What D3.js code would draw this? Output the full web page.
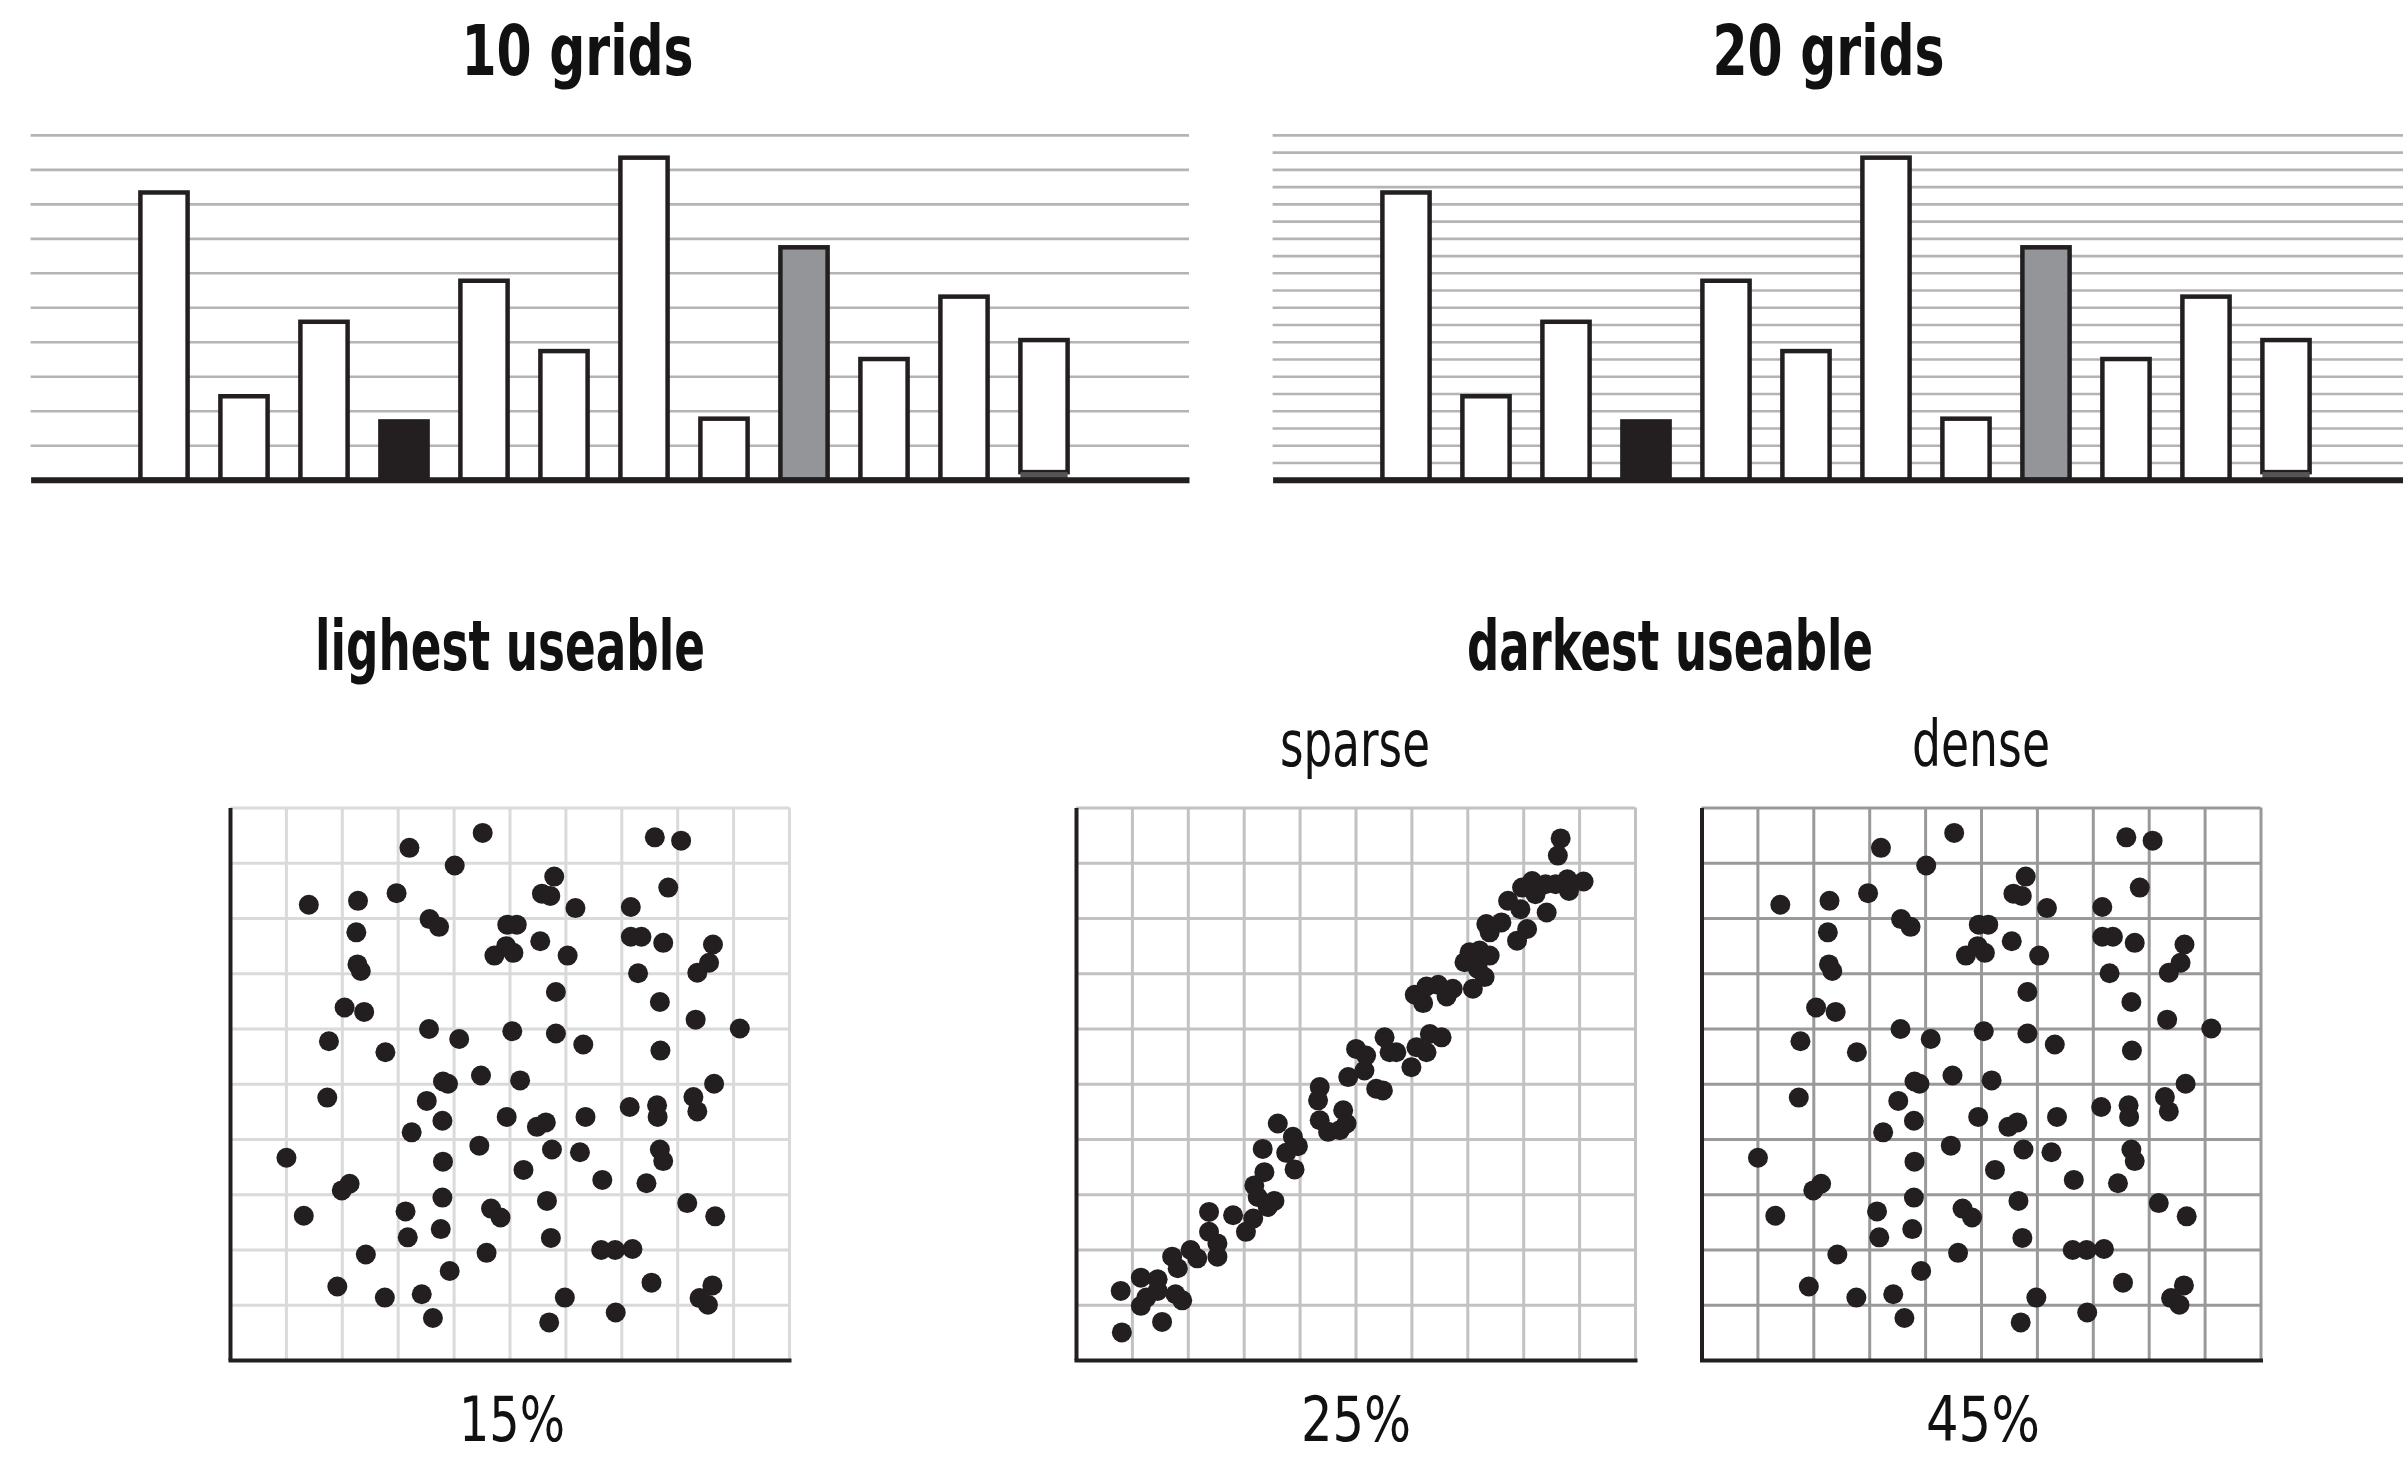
<!DOCTYPE html>
<html>
<head>
<meta charset="utf-8">
<script src="https://cdn.jsdelivr.net/npm/d3@7"></script>
<style>
html,body{margin:0;padding:0;background:#fff;}
svg{display:block;}
</style>
</head>
<body>
<svg id="chart" width="2403" height="1458"></svg>
<script>
// ---------------- DATA ----------------
const barCategories = ["1","2","3","4","5","6","7","8","9","10","11","12"];
const barValues = [8.33, 2.42, 4.58, 1.69, 5.77, 3.73, 9.34, 1.77, 6.74, 3.50, 5.31, 4.05];
const barGridCounts = [10, 20];
const barTitles = ["10 grids", "20 grids"];
const darkCategory = "4";
const grayCategory = "9";
const liftedCategory = "12";
const liftedBase = 0.22;

const panelTitles = ["lighest useable", "darkest useable"];
const panelSubtitles = ["sparse", "dense"];
const panelLabels = ["15%", "25%", "45%"];
const gridTicks = [1, 2, 3, 4, 5, 6, 7, 8, 9, 10];

// scattered points (used by the 15% and the dense 45% panels)
const scatterPoints = [
 [4.52,9.54],[3.21,9.27],[4.02,8.95],[2.98,8.45],[1.41,8.24],[2.29,8.31],[3.57,7.98],[3.74,7.84],
 [2.26,7.74],[4.96,7.88],[5.13,7.88],[4.73,7.32],[4.94,7.49],[5.07,7.37],[2.28,7.16],[2.34,7.04],
 [2.05,6.38],[2.40,6.30],[3.56,5.99],[1.77,5.77],[4.10,5.81],[5.05,5.95],[2.78,5.57],[3.81,5.04],
 [3.90,5.00],[4.49,5.15],[5.19,5.06],
 [7.60,9.46],[8.07,9.40],[5.80,8.75],[5.58,8.44],[5.73,8.40],[6.18,8.18],[7.84,8.55],[7.17,8.20],
 [5.55,7.58],[6.04,7.32],[7.17,7.66],[7.36,7.66],[7.75,7.55],[8.64,7.52],[8.57,7.19],[8.36,7.01],
 [7.30,7.00],[5.83,6.66],[7.69,6.48],[8.33,6.16],[9.12,6.00],[5.83,5.91],[6.32,5.71],[7.70,5.60],
 [8.66,5.00],
 [1.74,4.75],[3.52,4.69],[3.80,4.33],[4.95,4.40],[3.25,4.12],[4.46,3.88],[1.01,3.66],[3.81,3.59],
 [5.25,3.44],[2.14,3.19],[2.00,3.07],[3.80,2.94],[1.32,2.61],[3.14,2.69],[4.67,2.74],[4.84,2.58],
 [3.77,2.37],[3.18,2.22],[2.43,1.91],[4.59,1.94],[3.93,1.61],[1.92,1.33],[2.77,1.13],[3.43,1.19],
 [3.63,0.76],
 [8.29,4.76],[8.36,4.50],[5.49,4.22],[5.65,4.30],[6.36,4.40],[7.15,4.58],[7.64,4.61],[7.65,4.40],
 [5.76,3.81],[6.26,3.76],[7.69,3.81],[7.75,3.60],[6.66,3.26],[7.45,3.20],[5.67,2.88],[8.18,2.84],
 [8.68,2.60],[5.74,2.21],[6.64,1.99],[6.89,1.99],[7.20,2.01],[7.54,1.40],[5.99,1.13],[8.63,1.35],
 [8.40,1.12],[8.55,1.00],[6.90,0.86],[5.71,0.68]
];

// correlated points (used by the sparse 25% panel)
const linearPoints = [
 [0.82,0.50],[1.54,0.69],[0.80,1.25],[1.16,1.49],[1.16,0.98],[1.26,1.13],[1.46,1.46],[1.46,1.25],
 [1.78,1.19],[1.90,1.08],[1.72,1.87],[1.82,1.66],[2.05,1.99],[2.17,1.84],[2.38,2.68],[2.38,2.32],
 [2.53,2.11],[2.53,1.87],[2.81,2.62],[3.04,2.32],[3.17,2.56],[3.19,3.16],[3.25,2.95],[3.34,3.82],
 [3.37,3.40],[3.43,2.77],
 [3.55,2.88],[3.61,4.28],[3.88,4.04],[3.97,3.87],[3.76,3.75],[3.91,3.45],[4.36,4.94],[4.33,4.70],
 [4.36,4.34],[4.51,4.13],[4.72,4.16],[4.78,4.52],[4.84,4.28],[4.87,5.12],[5.01,5.63],[5.19,5.51],
 [5.16,5.24],[5.37,4.91],[5.49,4.88],[5.52,5.84],[5.61,5.57],[5.73,5.57],[6.00,5.30],[6.09,5.66],
 [6.33,5.90],[6.54,5.84],[6.27,5.57],[6.06,6.61],[6.21,6.46],[6.27,6.76],[6.48,6.79],[6.63,6.58],
 [8.67,9.44],[8.62,9.13],[9.08,8.66],[8.79,8.70],[8.82,8.49],[8.58,8.61],[8.40,8.61],[8.16,8.67],
 [7.98,8.55],[8.22,8.43],[8.42,8.10],[7.73,8.31],[7.95,8.16],[8.07,7.80],[7.89,7.59],[7.61,7.92],
 [7.34,7.89],[7.40,7.74],[7.22,7.41],[7.40,7.32],[7.04,7.38],[6.95,7.20],[7.19,7.08],[7.31,6.93],
 [7.10,6.72],[6.74,6.72]
];

// ---------------- DRAW ----------------
const svg = d3.select("#chart");
const INK = "#231f20";
const BOLD_FONT = "'Liberation Sans Narrow','DejaVu Sans Condensed','Open Sans',sans-serif";

svg.append("rect").attr("width", 2403).attr("height", 1458).attr("fill", "#fff");

function label(text, cx, baseline, size, weight, width) {
  svg.append("text")
    .attr("x", cx).attr("y", baseline)
    .attr("text-anchor", "middle")
    .attr("font-family", BOLD_FONT)
    .attr("font-size", size)
    .attr("font-weight", weight)
    .attr("fill", "#111")
    .attr("textLength", width)
    .attr("lengthAdjust", "spacingAndGlyphs")
    .text(text);
}

// Bar charts
const barY = d3.scaleLinear().domain([0, 10]).range([479.7, 134.9]);
const chartOffsets = [0, 1242];
chartOffsets.forEach((dx, i) => {
  const g = svg.append("g");
  const gridLeft = 30.6 + dx, gridRight = 1189 + dx;
  const n = barGridCounts[i];
  const ticks = d3.range(1, n + 1).map(k => k * 10 / n);
  const gridAxis = d3.axisRight(barY).tickValues(ticks).tickSize(gridRight - gridLeft).tickFormat("");
  const ga = g.append("g").attr("transform", `translate(${gridLeft},0)`).call(gridAxis);
  ga.select(".domain").remove();
  ga.selectAll(".tick line").attr("stroke", "#b4b4b4").attr("stroke-width", 2.6);

  const x = d3.scaleBand().domain(barCategories)
    .range([124 + dx, 1084 + dx]).paddingInner(0.41).paddingOuter(0.205);

  const data = barCategories.map((c, j) => ({c, v: barValues[j]}));
  g.selectAll("rect.bar").data(data).join("rect")
    .attr("class", "bar")
    .attr("x", d => x(d.c))
    .attr("y", d => barY(d.v))
    .attr("width", x.bandwidth())
    .attr("height", d => barY(d.c === liftedCategory ? liftedBase : 0) - barY(d.v))
    .attr("fill", d => d.c === darkCategory ? INK : (d.c === grayCategory ? "#939598" : "#fff"))
    .attr("stroke", INK)
    .attr("stroke-width", 4.5);

  g.selectAll("rect.lift").data(data.filter(d => d.c === liftedCategory)).join("rect")
    .attr("class", "lift")
    .attr("x", d => x(d.c))
    .attr("y", barY(liftedBase))
    .attr("width", x.bandwidth())
    .attr("height", barY(0) - barY(liftedBase))
    .attr("fill", "#555");

  const baseAxis = d3.axisBottom(d3.scaleLinear().range([gridLeft, gridRight])).tickValues([]).tickSizeOuter(0);
  const ba = g.append("g").attr("transform", `translate(0,${barY(0)})`).call(baseAxis);
  ba.select(".domain").attr("stroke", INK).attr("stroke-width", 6);

  label(barTitles[i], [577.5, 1828.5][i], 75, 70, "bold", 232);
});

// Scatter panels
const panelW = 559, panelTop = 807.5, panelBottom = 1360;
const panels = [
  {left: 230,    grid: "#dadada", data: scatterPoints},
  {left: 1076,   grid: "#c2c2c2", data: linearPoints},
  {left: 1701.5, grid: "#999999", data: scatterPoints}
];
panels.forEach((p, i) => {
  const g = svg.append("g");
  const xs = d3.scaleLinear().domain([0, 10]).range([p.left, p.left + panelW]);
  const ys = d3.scaleLinear().domain([0, 10]).range([panelBottom, panelTop]);

  const gx = g.append("g").attr("transform", `translate(0,${panelBottom})`)
    .call(d3.axisBottom(xs).tickValues(gridTicks).tickSize(-(panelBottom - panelTop)).tickFormat(""));
  gx.select(".domain").remove();
  const gy = g.append("g").attr("transform", `translate(${p.left},0)`)
    .call(d3.axisLeft(ys).tickValues(gridTicks).tickSize(-panelW).tickFormat(""));
  gy.select(".domain").remove();
  g.selectAll(".tick line").attr("stroke", p.grid).attr("stroke-width", 3);

  // black left & bottom axes
  const la = g.append("g").attr("transform", `translate(${p.left},0)`)
    .call(d3.axisLeft(ys).tickValues([]).tickSizeOuter(0));
  la.select(".domain").attr("stroke", INK).attr("stroke-width", 4);
  const bx = g.append("g").attr("transform", `translate(0,${panelBottom})`)
    .call(d3.axisBottom(xs).tickValues([]).tickSizeOuter(0));
  bx.select(".domain").attr("stroke", INK).attr("stroke-width", 4).attr("stroke-linecap", "square");

  g.selectAll("circle").data(p.data).join("circle")
    .attr("cx", d => xs(d[0]))
    .attr("cy", d => ys(d[1]))
    .attr("r", 10)
    .attr("fill", INK);

  label(panelLabels[i], [512, 1356, 1983][i], 1441, 62, "normal", [106, 110, 114][i]);
});

label(panelTitles[0], 510, 670, 70, "bold", 390);
label(panelTitles[1], 1670, 670, 70, "bold", 406);
label(panelSubtitles[0], 1355, 766, 64, "normal", 150);
label(panelSubtitles[1], 1981, 766, 64, "normal", 138);
</script>
</body>
</html>
